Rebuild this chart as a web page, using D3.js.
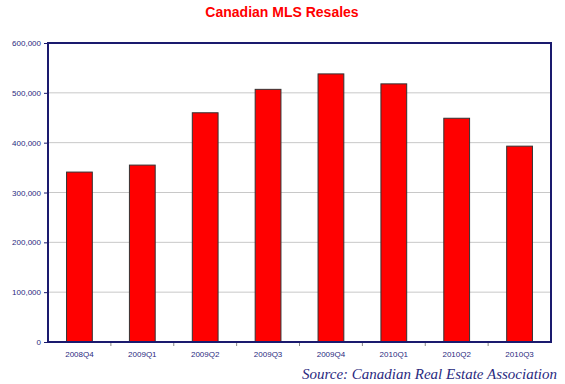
<!DOCTYPE html>
<html>
<head>
<meta charset="utf-8">
<script src="https://cdn.jsdelivr.net/npm/d3@7"></script>
<style>
  body { margin: 0; background: #fff; }
</style>
</head>
<body>
<div id="chart-area"></div>
<script>

// Chart size
var width = 565,
	height = 384;

// Data
var quarters = ["2008Q4", "2009Q1", "2009Q2", "2009Q3", "2009Q4", "2010Q1", "2010Q2", "2010Q3"];
var resales = [341000, 355000, 460000, 507000, 538000, 518000, 449000, 393000];
var yTicks = [0, 100000, 200000, 300000, 400000, 500000, 600000];

var margin = { top: 43, right: 14, bottom: 42, left: 48 };
var innerW = width - margin.left - margin.right,
	innerH = height - margin.top - margin.bottom;

var svg = d3.select("#chart-area").append("svg")
	.attr("width", width)
	.attr("height", height);

var g = svg.append("g")
	.attr("transform", "translate(" + margin.left + "," + margin.top + ")");

var x = d3.scaleBand()
	.domain(quarters)
	.range([0, innerW])
	.paddingInner(0.59)
	.paddingOuter(0.295);

var y = d3.scaleLinear()
	.domain([0, 600000])
	.range([innerH, 0]);

// grid lines
g.selectAll(".grid")
	.data(yTicks.slice(1, -1))
	.enter()
	.append("line")
	.attr("x1", 0)
	.attr("x2", innerW)
	.attr("y1", function(d) { return y(d); })
	.attr("y2", function(d) { return y(d); })
	.attr("stroke", "#c8c8c8")
	.attr("stroke-width", 1);

// bars
g.selectAll(".bar")
	.data(resales)
	.enter()
	.append("rect")
	.attr("x", function(d, i) { return x(quarters[i]); })
	.attr("y", function(d) { return y(d); })
	.attr("width", x.bandwidth())
	.attr("height", function(d) { return innerH - y(d); })
	.attr("fill", "#ff0000")
	.attr("stroke", "#333")
	.attr("stroke-width", 1);

// y axis labels
var yAxis = d3.axisLeft(y)
	.tickValues(yTicks)
	.tickSize(4)
	.tickPadding(3)
	.tickFormat(d3.format(","));

g.append("g")
	.call(yAxis)
	.call(function(a) {
		a.select(".domain").remove();
		a.selectAll("line").attr("stroke", "#1a1a6e");
		a.selectAll("text")
			.attr("fill", "#2a2a80")
			.style("font-family", "Liberation Sans, Arial, sans-serif")
			.style("font-size", "8px");
	});

// x axis: ticks at band boundaries, labels at band centres
var xAxis = g.append("g")
	.attr("transform", "translate(0," + innerH + ")");

xAxis.selectAll(".xtick")
	.data(quarters.slice(1))
	.enter()
	.append("line")
	.attr("x1", function(d) { return x(d) - x.step() * x.paddingInner() / 2; })
	.attr("x2", function(d) { return x(d) - x.step() * x.paddingInner() / 2; })
	.attr("y1", 0)
	.attr("y2", 4)
	.attr("stroke", "#888");

xAxis.selectAll(".xlabel")
	.data(quarters)
	.enter()
	.append("text")
	.attr("x", function(d) { return x(d) + x.bandwidth() / 2; })
	.attr("y", 15)
	.attr("text-anchor", "middle")
	.attr("fill", "#2a2a80")
	.style("font-family", "Liberation Sans, Arial, sans-serif")
	.style("font-size", "8px")
	.text(function(d) { return d; });

// plot frame
g.append("rect")
	.attr("x", 0)
	.attr("y", 0)
	.attr("width", innerW)
	.attr("height", innerH)
	.attr("fill", "none")
	.attr("stroke", "#1a1a6e")
	.attr("stroke-width", 2);

// title
svg.append("text")
	.attr("x", 282)
	.attr("y", 17)
	.attr("text-anchor", "middle")
	.attr("fill", "#ff0000")
	.style("font-family", "Liberation Sans, Arial, sans-serif")
	.style("font-weight", "bold")
	.style("font-size", "14px")
	.text("Canadian MLS Resales");

// source note
svg.append("text")
	.attr("x", 557)
	.attr("y", 379)
	.attr("text-anchor", "end")
	.attr("fill", "#2a2a80")
	.style("font-family", "Liberation Serif, Times New Roman, serif")
	.style("font-style", "italic")
	.style("font-size", "15px")
	.text("Source: Canadian Real Estate Association");

</script>
</body>
</html>
